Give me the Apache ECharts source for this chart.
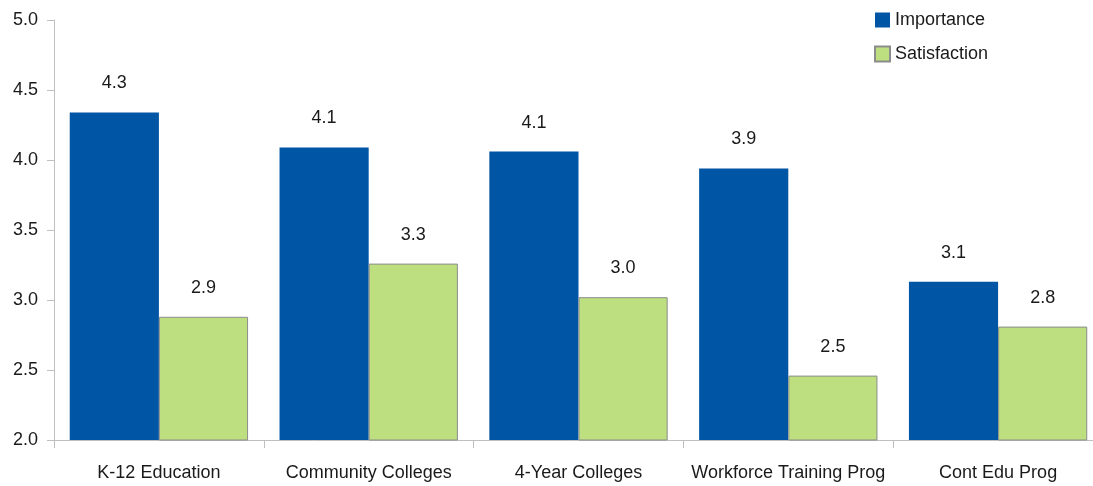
<!DOCTYPE html>
<html>
<head>
<meta charset="utf-8">
<script src="https://cdn.jsdelivr.net/npm/echarts@6/dist/echarts.min.js"></script>
<style>
  html, body { margin: 0; padding: 0; background: #fff; overflow: hidden; }
  #chart { width: 1093px; height: 486px; }
</style>
</head>
<body>
<div id="chart"></div>
<script>
// Program ratings: importance vs. satisfaction (scale 2.0 – 5.0)
const categories = ['K-12 Education', 'Community Colleges', '4-Year Colleges', 'Workforce Training Prog', 'Cont Edu Prog'];
const importance = [4.34, 4.09, 4.06, 3.94, 3.13];
const satisfaction = [2.88, 3.26, 3.02, 2.46, 2.81];
const yTicks = ['2.0', '2.5', '3.0', '3.5', '4.0', '4.5', '5.0'];

const FONT = '"Liberation Sans Narrow", "Arial Narrow", "Liberation Sans", sans-serif';
const TEXT = '#1a1a1a';
const AXIS = '#bfbfbf';

const chart = echarts.init(document.getElementById('chart'), null, { renderer: 'canvas' });

const labelStyle = {
  show: true,
  position: 'top',
  distance: 20,
  color: TEXT,
  fontFamily: FONT,
  fontSize: 18,
  formatter: p => p.value.toFixed(1)
};

chart.setOption({
  animation: false,
  textStyle: { fontFamily: FONT },
  // plot area runs slightly past the right edge of the canvas
  grid: {
    left: 54, width: 1049, top: 20, bottom: 46,
    containLabel: false,
    outerBoundsMode: 'none'
  },
  legend: {
    orient: 'vertical',
    left: 874,
    top: 11,
    padding: 0,
    itemWidth: 15,
    itemHeight: 15,
    itemGap: 16,
    textStyle: { fontFamily: FONT, fontSize: 18, color: TEXT },
    data: [
      { name: 'Importance', icon: 'rect' },
      { name: 'Satisfaction', icon: 'rect' }
    ]
  },
  xAxis: {
    type: 'category',
    data: categories,
    axisLine: { lineStyle: { color: AXIS, width: 1 } },
    axisTick: { show: true, interval: 0, length: 8, lineStyle: { color: AXIS } },
    axisLabel: { interval: 0, color: TEXT, fontFamily: FONT, fontSize: 18, margin: 24 }
  },
  yAxis: {
    type: 'value',
    min: 2,
    max: 5,
    interval: 0.5,
    axisLine: { show: true, lineStyle: { color: AXIS, width: 1 } },
    axisTick: { show: true, length: 7, lineStyle: { color: AXIS } },
    splitLine: { show: false },
    axisLabel: {
      color: TEXT,
      fontFamily: FONT,
      fontSize: 18,
      margin: 16,
      formatter: v => yTicks[Math.round((v - 2) / 0.5)]
    }
  },
  series: [
    {
      name: 'Importance',
      type: 'bar',
      data: importance,
      barGap: '0%',
      barCategoryGap: '15%',
      itemStyle: { color: '#0055a5' },
      label: labelStyle
    },
    {
      name: 'Satisfaction',
      type: 'bar',
      data: satisfaction,
      itemStyle: { color: '#bddf80', borderColor: '#8c8c8c', borderWidth: 1 },
      label: labelStyle
    }
  ]
});
</script>
</body>
</html>
